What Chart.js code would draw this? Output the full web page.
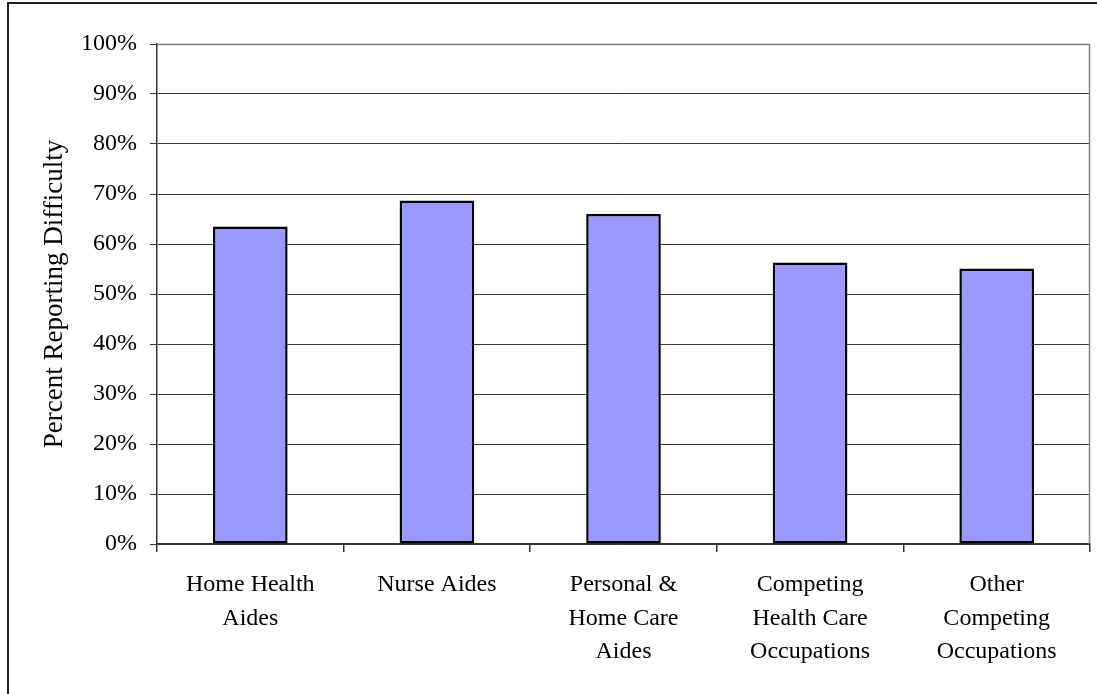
<!DOCTYPE html>
<html>
<head>
<meta charset="utf-8">
<script src="https://cdn.jsdelivr.net/npm/chart.js@4.4.0/dist/chart.umd.min.js"></script>
<style>
  html, body { margin: 0; padding: 0; background: #ffffff; overflow: hidden; }
  #wrap { position: relative; width: 1097px; height: 694px; }
  #frame { position: absolute; left: 7px; top: 2px; width: 1200px; height: 800px; border: 2px solid #222222; box-sizing: border-box; }
  canvas { position: absolute; left: 0; top: 0; }
</style>
</head>
<body>
<div id="wrap">
  <div id="frame"></div>
  <canvas id="c" width="1097" height="694"></canvas>
</div>
<script>
const categories = [
  ["Home Health", "Aides"],
  ["Nurse Aides"],
  ["Personal &", "Home Care", "Aides"],
  ["Competing", "Health Care", "Occupations"],
  ["Other", "Competing", "Occupations"]
];
const percentReportingDifficulty = [63.5, 68.7, 66.0, 56.3, 55.1];
const yTickValues = [0, 10, 20, 30, 40, 50, 60, 70, 80, 90, 100];
const yAxisTitle = "Percent Reporting Difficulty";

const plotBorder = {
  id: 'plotBorder',
  afterDatasetsDraw(chart) {
    const { ctx, chartArea: a } = chart;
    ctx.save();
    ctx.strokeStyle = '#808080';
    ctx.lineWidth = 1.5;
    ctx.beginPath();
    ctx.moveTo(a.left, a.top + 0.5);
    ctx.lineTo(a.right - 0.5, a.top + 0.5);
    ctx.lineTo(a.right - 0.5, a.bottom);
    ctx.stroke();
    ctx.restore();
  }
};

new Chart(document.getElementById('c'), {
  type: 'bar',
  data: {
    labels: categories,
    datasets: [{
      data: percentReportingDifficulty,
      backgroundColor: '#9999FF',
      borderColor: '#000000',
      borderWidth: 2.5,
      borderSkipped: false,
      categoryPercentage: 1.0,
      barPercentage: 0.4
    }]
  },
  options: {
    responsive: false,
    animation: false,
    devicePixelRatio: 1,
    layout: { padding: { top: 44, right: 7, bottom: 0, left: 0 } },
    plugins: { legend: { display: false }, tooltip: { enabled: false } },
    scales: {
      x: {
        afterFit(s) { s.height = 150; },
        grid: {
          offset: true,
          drawOnChartArea: false,
          drawTicks: true,
          tickLength: 8,
          color: '#333333',
          lineWidth: 1.5
        },
        border: { color: '#333333', width: 1.5 },
        ticks: {
          color: '#000000',
          padding: 16,
          maxRotation: 0,
          autoSkip: false,
          font: { family: '"Liberation Serif", "Times New Roman", serif', size: 24, lineHeight: 1.4 }
        }
      },
      y: {
        min: 0,
        max: 100,
        afterFit(s) { s.width = 157; },
        afterBuildTicks(s) { s.ticks = yTickValues.map(v => ({ value: v })); },
        grid: {
          color: '#3a3a3a',
          lineWidth: 1,
          tickLength: 7,
          drawTicks: true
        },
        border: { color: '#333333', width: 1.5 },
        ticks: {
          color: '#000000',
          padding: 13,
          callback: v => v + '%',
          font: { family: '"Liberation Serif", "Times New Roman", serif', size: 24 }
        },
        title: {
          display: true,
          text: yAxisTitle,
          color: '#000000',
          padding: { top: 39, bottom: 0 },
          font: { family: '"Liberation Serif", "Times New Roman", serif', size: 27, lineHeight: 1.2 }
        }
      }
    }
  },
  plugins: [plotBorder]
});
</script>
</body>
</html>
